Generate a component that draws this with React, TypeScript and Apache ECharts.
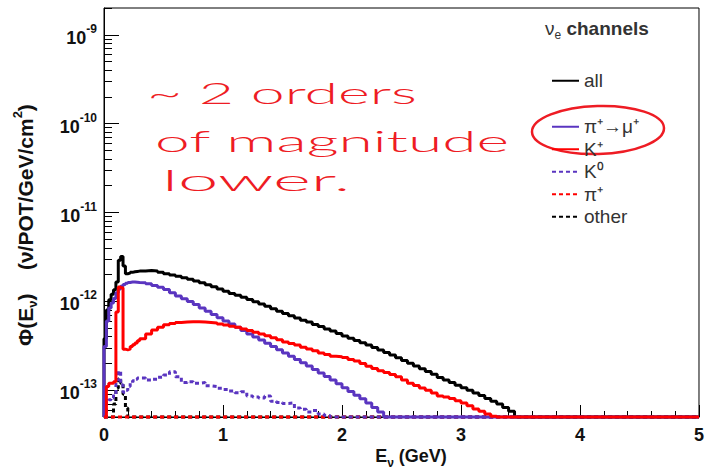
import { useEffect, useRef } from "react";
import * as echarts from "echarts";

// ---------- binning (GeV) ----------
const FINE_WIDTH = 0.02; // first 15 bins: 0 – 0.3 GeV
const FINE_COUNT = 15;
const COARSE_WIDTH = 0.05; // remaining bins: 0.3 – 5 GeV
const COARSE_COUNT = 94;
const E_MIN = 0;
const E_MAX = 5;

// ---------- flux axis range ----------
const PHI_MIN = 5e-14;
const PHI_MAX = 2e-9;
const Y_MAJOR_TICKS = [1e-13, 1e-12, 1e-11, 1e-10, 1e-9];
const Y_MINOR_MANTISSAS = [2, 3, 4, 5, 6, 7, 8, 9];
const Y_DECADES = [-14, -13, -12, -11, -10, -9];

// ---------- series names ----------
const NAME_ALL = "all";
const NAME_PIMU = "π⁺→μ⁺";
const NAME_KPLUS = "K⁺";
const NAME_KZERO = "K⁰";
const NAME_PIPLUS = "π⁺";
const NAME_OTHER = "other";

// ---------- series values, per bin (ν/POT/GeV/cm²); 0 = empty bin ----------
const ALL = [
  // fine bins 0 – 0.3
  3.8e-13, 8.0e-13, 1.04e-12, 1.2e-12, 1.35e-12, 1.65e-12, 2.9e-12, 3.2e-12, 2.5e-12, 2.05e-12,
  2.08e-12, 2.12e-12, 2.15e-12, 2.17e-12, 2.19e-12,
  // coarse bins from 0.3
  2.2e-12, 2.22e-12, 2.2e-12, 2.12e-12, 2.05e-12, 1.98e-12, 1.92e-12, 1.85e-12, 1.77e-12, 1.7e-12,
  1.62e-12, 1.54e-12, 1.46e-12, 1.38e-12,
  1.3e-12, 1.23e-12, 1.17e-12, 1.11e-12, 1.05e-12, 9.9e-13, 9.35e-13, 8.8e-13, 8.25e-13, 7.75e-13,
  7.3e-13, 6.9e-13, 6.5e-13, 6.15e-13, 5.85e-13, 5.5e-13, 5.2e-13, 4.9e-13, 4.65e-13, 4.35e-13,
  4.07e-13, 3.85e-13, 3.63e-13, 3.42e-13, 3.23e-13, 3.03e-13, 2.84e-13, 2.66e-13, 2.49e-13, 2.32e-13,
  2.16e-13, 2.01e-13, 1.87e-13, 1.75e-13, 1.63e-13, 1.51e-13, 1.39e-13, 1.3e-13, 1.22e-13, 1.14e-13,
  1.07e-13, 1.0e-13, 9.3e-14, 8.7e-14, 8.1e-14, 7.5e-14, 7.0e-14, 6.4e-14, 5.8e-14,
];

const PIMU = [
  3.1e-13, 6.0e-13, 8.4e-13, 9.6e-13, 1.08e-12, 1.25e-12, 1.38e-12, 1.48e-12, 1.55e-12, 1.6e-12,
  1.63e-12, 1.65e-12, 1.65e-12, 1.64e-12, 1.63e-12,
  1.62e-12, 1.58e-12, 1.51e-12, 1.44e-12, 1.36e-12, 1.25e-12, 1.15e-12, 1.07e-12, 9.95e-13, 9.2e-13,
  8.4e-13, 7.75e-13, 7.1e-13, 6.55e-13,
  6.0e-13, 5.55e-13, 5.1e-13, 4.7e-13, 4.3e-13, 3.97e-13, 3.67e-13, 3.38e-13, 3.1e-13, 2.85e-13,
  2.62e-13, 2.42e-13, 2.22e-13, 2.04e-13, 1.87e-13, 1.71e-13, 1.56e-13, 1.43e-13, 1.3e-13, 1.18e-13,
  1.07e-13, 9.7e-14, 8.8e-14, 8.0e-14, 7.2e-14, 6.4e-14, 5.7e-14,
];

const KPLUS = [
  0, 1.1e-13, 1.2e-13, 1.2e-13, 1.25e-13, 7.6e-13, 1.45e-12, 1.42e-12, 2.9e-13, 2.85e-13,
  2.9e-13, 3.1e-13, 3.25e-13, 3.4e-13, 3.6e-13,
  3.8e-13, 4.3e-13, 4.75e-13, 5.1e-13, 5.45e-13, 5.65e-13, 5.8e-13, 5.85e-13, 5.9e-13, 5.9e-13,
  5.85e-13, 5.8e-13, 5.7e-13, 5.55e-13,
  5.42e-13, 5.25e-13, 5.1e-13, 4.9e-13, 4.7e-13, 4.5e-13, 4.3e-13, 4.1e-13, 3.9e-13, 3.7e-13,
  3.5e-13, 3.35e-13, 3.23e-13, 3.05e-13, 2.92e-13, 2.78e-13, 2.62e-13, 2.52e-13, 2.42e-13, 2.38e-13,
  2.33e-13, 2.22e-13, 2.14e-13, 2.0e-13, 1.86e-13, 1.76e-13, 1.66e-13, 1.58e-13, 1.5e-13, 1.42e-13,
  1.3e-13, 1.2e-13, 1.13e-13, 1.06e-13, 1.0e-13, 9.3e-14, 8.6e-14, 8.4e-14, 8.1e-14, 7.6e-14,
  7.2e-14, 6.7e-14, 6.15e-14, 5.8e-14, 5.4e-14, 5.1e-14,
];

const KZERO = [
  0, 7.2e-14, 7.8e-14, 8.2e-14, 9.0e-14, 1.3e-13, 1.64e-13, 1.15e-13, 9.5e-14, 1.0e-13,
  1.1e-13, 1.2e-13, 1.28e-13, 1.33e-13, 1.37e-13,
  1.37e-13, 1.3e-13, 1.33e-13, 1.4e-13, 1.48e-13, 1.62e-13, 1.42e-13, 1.22e-13, 1.25e-13, 1.2e-13,
  1.22e-13, 1.12e-13, 1.1e-13, 1.05e-13,
  1.02e-13, 9.8e-14, 9.4e-14, 9.6e-14, 8.6e-14, 8.4e-14, 8.2e-14, 8.6e-14, 7.5e-14, 7.3e-14,
  7.1e-14, 7.2e-14, 6.3e-14, 6.1e-14, 5.7e-14, 5.9e-14, 5.4e-14, 5.2e-14,
];

const PIPLUS: number[] = [0];

const OTHER = [0, 0, 0, 0, 7.0e-14, 1.05e-13, 1.35e-13, 1.2e-13, 9.0e-14, 6.3e-14];

// ---------- styling ----------
const FONT = "Liberation Sans";
const BLACK = "#000000";
const PURPLE = "#5a35c0";
const RED = "#ff0000";
const INK = "#ee1c24";
const LINE_W = 3;
const DASH = [4, 3];

const EDGES: number[] = [];
for (let i = 0; i < FINE_COUNT; i++) EDGES.push(+(i * FINE_WIDTH).toFixed(3));
for (let i = 0; i < COARSE_COUNT; i++)
  EDGES.push(+(FINE_COUNT * FINE_WIDTH + i * COARSE_WIDTH).toFixed(3));

const Y_MINOR_TICKS: number[] = [];
Y_DECADES.forEach((d) =>
  Y_MINOR_MANTISSAS.forEach((m) => {
    const v = m * Math.pow(10, d);
    if (v >= PHI_MIN && v <= PHI_MAX * 1.0001) Y_MINOR_TICKS.push(v);
  })
);

// histogram outline: empty bins sit on the axis floor, like ROOT draws them
function histPoints(values: number[]): [number, number][] {
  const pts: [number, number][] = [[E_MIN, PHI_MIN]];
  let last = PHI_MIN;
  EDGES.forEach((e, i) => {
    const v = values[i] ?? 0;
    last = v > PHI_MIN ? v : PHI_MIN;
    pts.push([e, last]);
  });
  pts.push([E_MAX, last]);
  return pts;
}

function histSeries(name: string, values: number[], color: string, dashed: boolean) {
  return {
    name,
    type: "line",
    step: "end",
    symbol: "none",
    clip: false,
    silent: true,
    data: histPoints(values),
    lineStyle: { color, width: LINE_W, type: dashed ? DASH : "solid" },
    itemStyle: { color },
  };
}

const legendText = {
  fontSize: 19,
  fontFamily: FONT,
  color: "#333",
  lineHeight: 22.5,
};

export default function App() {
  const ref = useRef<HTMLDivElement>(null);

  useEffect(() => {
    if (!ref.current) return;
    const chart = echarts.init(ref.current, null, { renderer: "svg" });

    const labelRich = {
      b: { fontSize: 18, fontWeight: "bold", fontFamily: FONT, color: "#111", lineHeight: 24, verticalAlign: "bottom" },
      s: { fontSize: 12, fontWeight: "bold", fontFamily: FONT, color: "#111", lineHeight: 24, verticalAlign: "top" },
    };

    const legendBase = {
      orient: "vertical",
      left: 546,
      itemWidth: 27,
      itemHeight: 14,
      itemGap: 0,
      selectedMode: false,
      itemStyle: { opacity: 0 },
      textStyle: legendText,
    };

    chart.setOption({
      animation: false,
      backgroundColor: "#fff",
      grid: {
        left: 104,
        right: 3,
        top: 8,
        bottom: 53,
        show: true,
        borderColor: BLACK,
        borderWidth: 1,
        backgroundColor: "transparent",
      },
      xAxis: {
        type: "value",
        min: E_MIN,
        max: E_MAX,
        interval: 1,
        axisLine: { lineStyle: { color: BLACK, width: 1 } },
        axisTick: { inside: true, length: 12, lineStyle: { color: BLACK } },
        minorTick: { show: true, splitNumber: 5, length: 6, lineStyle: { color: BLACK } },
        splitLine: { show: false },
        axisLabel: { fontSize: 18, fontWeight: "bold", fontFamily: FONT, color: "#111", margin: 9 },
      },
      yAxis: [
        {
          type: "log",
          logBase: 10,
          min: PHI_MIN,
          max: PHI_MAX,
          axisLine: { show: true, lineStyle: { color: BLACK, width: 1 } },
          axisTick: { show: true, inside: true, length: 15, customValues: Y_MAJOR_TICKS, lineStyle: { color: BLACK } },
          splitLine: { show: false },
          axisLabel: {
            customValues: Y_MAJOR_TICKS,
            margin: 7,
            formatter: (v: number) => `{b|10}{s|${Math.round(Math.log10(v))}}`,
            rich: labelRich,
          },
        },
        {
          type: "log",
          logBase: 10,
          min: PHI_MIN,
          max: PHI_MAX,
          position: "left",
          axisLine: { show: false },
          axisTick: { show: true, inside: true, length: 8, customValues: Y_MINOR_TICKS, lineStyle: { color: BLACK } },
          splitLine: { show: false },
          axisLabel: { show: false },
        },
      ],
      legend: [
        { ...legendBase, data: [NAME_ALL], top: 64.5 },
        { ...legendBase, data: [NAME_PIMU, NAME_KPLUS, NAME_KZERO, NAME_PIPLUS, NAME_OTHER], top: 110.5 },
      ],
      series: [
        histSeries(NAME_OTHER, OTHER, BLACK, true),
        histSeries(NAME_PIPLUS, PIPLUS, RED, true),
        histSeries(NAME_KZERO, KZERO, PURPLE, true),
        histSeries(NAME_ALL, ALL, BLACK, false),
        histSeries(NAME_PIMU, PIMU, PURPLE, false),
        histSeries(NAME_KPLUS, KPLUS, RED, false),
      ],
      graphic: [
        {
          type: "text",
          x: 545,
          y: 28,
          silent: true,
          style: {
            text: "ν{sub|e} {b|channels}",
            fontSize: 19,
            fontFamily: FONT,
            fill: "#333",
            align: "left",
            verticalAlign: "middle",
            rich: {
              sub: { fontSize: 12, fontFamily: FONT, fill: "#333", verticalAlign: "bottom", lineHeight: 26 },
              b: { fontSize: 19, fontWeight: "bold", fontFamily: FONT, fill: "#333", lineHeight: 26 },
            },
          },
        },
        {
          type: "text",
          x: 25,
          y: 225,
          rotation: Math.PI / 2,
          silent: true,
          style: {
            text: "Φ(E{sub|ν})    (ν/POT/GeV/cm{sup|2})",
            fontSize: 21,
            fontWeight: "bold",
            fontFamily: FONT,
            fill: "#111",
            align: "center",
            verticalAlign: "middle",
            rich: {
              sub: { fontSize: 13, fontWeight: "bold", fontFamily: FONT, fill: "#111", verticalAlign: "bottom", lineHeight: 28 },
              sup: { fontSize: 13, fontWeight: "bold", fontFamily: FONT, fill: "#111", verticalAlign: "top", lineHeight: 28 },
            },
          },
        },
        {
          type: "text",
          x: 411,
          y: 456,
          silent: true,
          style: {
            text: "E{sub|ν} (GeV)",
            fontSize: 18,
            fontWeight: "bold",
            fontFamily: FONT,
            fill: "#111",
            align: "center",
            verticalAlign: "middle",
            rich: {
              sub: { fontSize: 12, fontWeight: "bold", fontFamily: FONT, fill: "#111", verticalAlign: "bottom", lineHeight: 26 },
            },
          },
        },
        {
          type: "text",
          x: 147,
          y: 93,
          scaleX: 2.1,
          silent: true,
          style: { text: "~ 2 orders", fontSize: 29, fontWeight: 300, fontFamily: "Lato", fill: INK, align: "left", verticalAlign: "middle" },
        },
        {
          type: "text",
          x: 155,
          y: 141,
          scaleX: 2.15,
          silent: true,
          style: { text: "of magnitude", fontSize: 29, fontWeight: 300, fontFamily: "Lato", fill: INK, align: "left", verticalAlign: "middle" },
        },
        {
          type: "text",
          x: 162,
          y: 180,
          scaleX: 2.5,
          silent: true,
          style: { text: "lower.", fontSize: 29, fontWeight: 300, fontFamily: "Lato", fill: INK, align: "left", verticalAlign: "middle" },
        },
        {
          type: "ellipse",
          x: 598,
          y: 130,
          rotation: 0.03,
          silent: true,
          shape: { cx: 0, cy: 0, rx: 66, ry: 24 },
          style: { fill: "none", stroke: INK, lineWidth: 2.5 },
        },
      ],
    });

    return () => chart.dispose();
  }, []);

  return (
    <div
      ref={ref}
      style={{ position: "fixed", left: 0, top: 0, width: 707, height: 470, background: "#fff" }}
    />
  );
}
